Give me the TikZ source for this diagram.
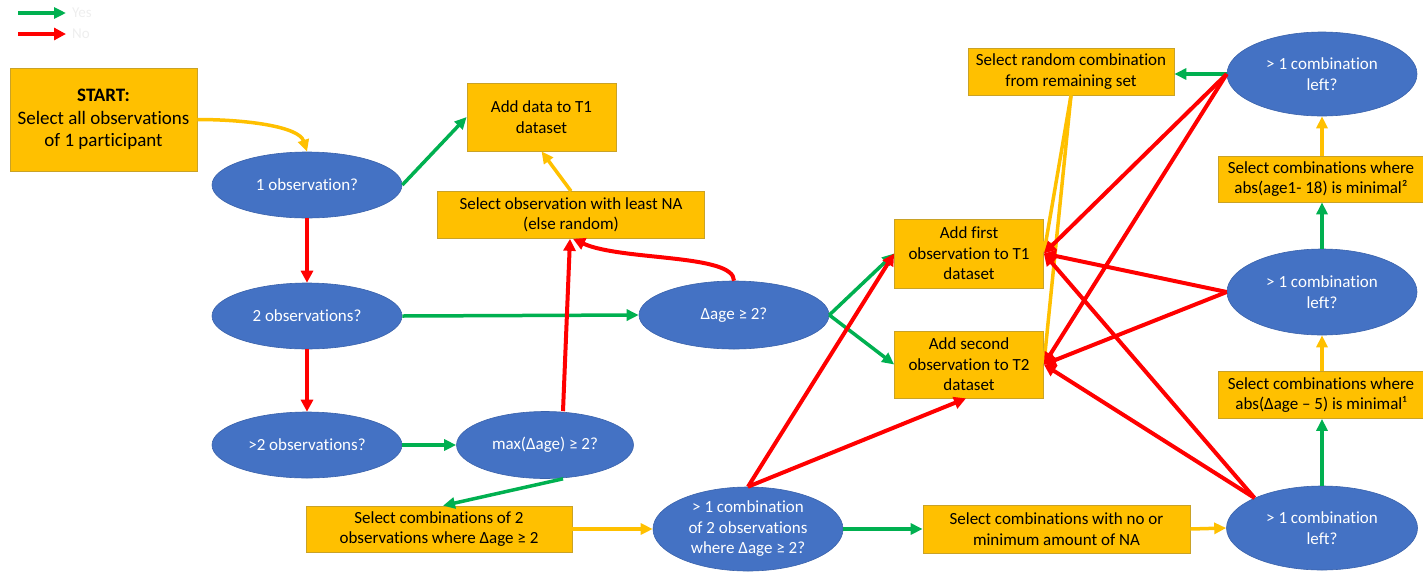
\documentclass[tikz,border=0pt]{standalone}
\usepackage{fontspec}
\setmainfont{Carlito}[Ligatures=NoCommon]
\usetikzlibrary{shapes.geometric,arrows.meta}
\definecolor{byellow}{HTML}{FFC000}
\definecolor{bborder}{HTML}{C9A227}
\definecolor{eblue}{HTML}{4472C4}
\definecolor{eborder}{HTML}{3A62AB}
\definecolor{agreen}{HTML}{00B050}
\definecolor{ared}{HTML}{FF0000}
\definecolor{ayellow}{HTML}{FFC000}
\definecolor{faint}{HTML}{EEEEEE}
\tikzset{
  txt/.style={font=\fontsize{17}{20.5}\selectfont, align=center, inner sep=0pt},
  box/.style={txt, rectangle, fill=byellow, draw=bborder, line width=0.7pt, text=black},
  dec/.style={txt, ellipse, fill=eblue, draw=eborder, line width=0.6pt, text=white},
  yesarrow/.style={draw=agreen, line width=3.5pt, -{Triangle[length=12pt,width=11pt]}},
  noarrow/.style={draw=ared, line width=4pt, -{Triangle[length=12pt,width=12pt]}},
  seqarrow/.style={draw=ayellow, line width=3.5pt, -{Triangle[length=12pt,width=11pt]}},
}
\begin{document}
\begin{tikzpicture}[x=1pt,y=-1pt]
\useasboundingbox (0,0) rectangle (1423,571);
% legend
\coordinate (ly) at (18,13);
\coordinate (ln) at (18,34);
\node[txt, anchor=west, text=faint, font=\fontsize{15}{18}\selectfont] (yes) at (72,13) {Yes};
\node[txt, anchor=west, text=faint, font=\fontsize{15}{18}\selectfont] (no) at (72,34) {No};
\draw[yesarrow] (ly) -- ([xshift=-6pt]yes.west);
\draw[noarrow] (ln) -- ([xshift=-6pt]no.west);
% nodes
\node[box, minimum width=187pt, minimum height=103pt, font=\fontsize{19}{22.5}\selectfont] (start) at (103.5,119.5) {\textbf{START:}\\Select all observations\\of 1 participant};
\node[dec, minimum width=190pt, minimum height=66pt] (e1) at (307,185) {1 observation?};
\node[dec, minimum width=190pt, minimum height=66pt] (e2) at (307,316) {2 observations?};
\node[dec, minimum width=190pt, minimum height=66pt] (e3) at (307,445) {>2 observations?};
\node[box, minimum width=149pt, minimum height=68pt] (t1) at (541.5,117) {Add data to T1\\dataset};
\node[box, minimum width=267pt, minimum height=47pt] (selna) at (571,215) {Select observation with least NA\\(else random)};
\node[dec, minimum width=190pt, minimum height=68pt] (dage) at (734,315) {Δage ≥ 2?};
\node[dec, minimum width=177pt, minimum height=67pt] (maxd) at (545,445) {max(Δage) ≥ 2?};
\node[box, minimum width=266pt, minimum height=46pt] (comb2) at (439,529) {Select combinations of 2\\observations where Δage ≥ 2};
\node[dec, minimum width=190pt, minimum height=84pt] (ec) at (748,529) {> 1 combination\\of 2 observations\\where Δage ≥ 2?};
\node[box, minimum width=267pt, minimum height=48pt] (na) at (1056.5,529) {Select combinations with no or\\minimum amount of NA};
\node[dec, minimum width=191pt, minimum height=84pt] (eb) at (1322,528) {> 1 combination\\left?};
\node[box, minimum width=205pt, minimum height=47pt] (abs5) at (1321,395) {Select combinations where\\abs(Δage – 5) is minimal¹};
\node[dec, minimum width=190pt, minimum height=86pt] (em) at (1322,292) {> 1 combination\\left?};
\node[box, minimum width=205pt, minimum height=46pt] (abs18) at (1321,179) {Select combinations where\\abs(age1- 18) is minimal²};
\node[dec, minimum width=190pt, minimum height=84pt] (et) at (1322,74) {> 1 combination\\left?};
\node[box, minimum width=206pt, minimum height=47pt] (rand) at (1071,71.5) {Select random combination\\from remaining set};
\node[box, minimum width=149pt, minimum height=69pt] (first) at (969,253.5) {Add first\\observation to T1\\dataset};
\node[box, minimum width=149pt, minimum height=67pt] (second) at (969,364.5) {Add second\\observation to T2\\dataset};
% yellow (sequence) connectors
\draw[seqarrow] (start.east) .. controls +(50,0) and +(-8,-25) .. (e1.north);
\draw[seqarrow] (selna.north) -- (t1.south);
\draw[seqarrow] (comb2.east) -- (ec.west);
\draw[seqarrow] (na.east) -- (eb.west);
\draw[seqarrow] (abs5.north -| em.south) -- (em.south);
\draw[seqarrow] (abs18.north -| et.south) -- (et.south);
\draw[seqarrow] (rand.south) -- (first.east);
\draw[seqarrow] (rand.south) -- (second.east);
% green (yes) connectors
\draw[yesarrow] (e1.east) -- (t1.west);
\draw[yesarrow] (e2.east) -- (dage.west);
\draw[yesarrow] (e3.east) -- (maxd.west);
\draw[yesarrow] ([xshift=18pt]maxd.south) -- ([xshift=4pt]comb2.north);
\draw[yesarrow] (dage.east) -- (first.west);
\draw[yesarrow] (dage.east) -- (second.west);
\draw[yesarrow] (ec.east) -- (na.west);
\draw[yesarrow] (eb.north) -- (eb.north |- abs5.south);
\draw[yesarrow] (em.north) -- (em.north |- abs18.south);
\draw[yesarrow] (et.west) -- (rand.east |- et.west);
% red (no) connectors
\draw[noarrow] (e1.south) -- (e2.north);
\draw[noarrow] (e2.south) -- (e3.north);
\draw[noarrow] ([xshift=18pt]maxd.north) -- ([xshift=-1pt]selna.south);
\draw[noarrow] (dage.north) .. controls +(0,-27) and +(48,22) .. ([xshift=2pt]selna.south);
\draw[noarrow] (ec.north) -- (first.west);
\draw[noarrow] (ec.north) -- ([xshift=-3pt]second.south);
\draw[noarrow] (et.west) -- (first.east);
\draw[noarrow] (et.west) -- (second.east);
\draw[noarrow] (em.west) -- (first.east);
\draw[noarrow] (em.west) -- (second.east);
\draw[noarrow] (eb.156) -- (first.east);
\draw[noarrow] (eb.156) -- (second.east);
\end{tikzpicture}
\end{document}
